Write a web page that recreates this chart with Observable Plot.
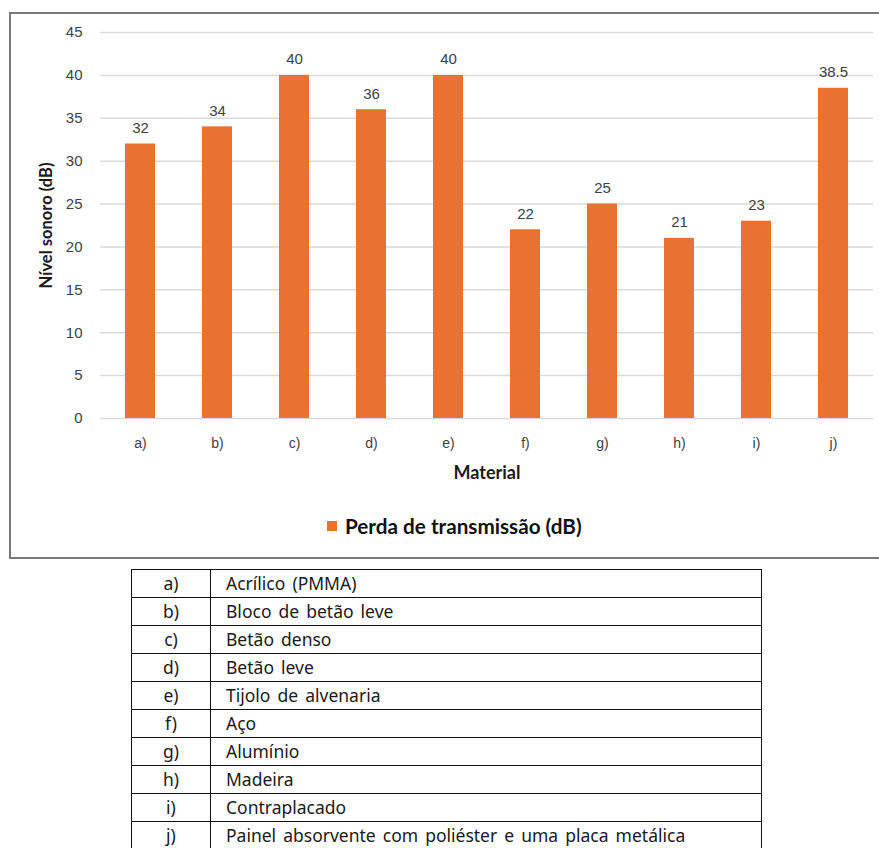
<!DOCTYPE html>
<html>
<head>
<meta charset="utf-8">
<script src="https://cdn.jsdelivr.net/npm/d3@7"></script>
<script src="https://cdn.jsdelivr.net/npm/@observablehq/plot@0.6"></script>
<style>
  html, body { margin: 0; padding: 0; background: #fff; width: 879px; height: 848px; overflow: hidden; position: relative; }
  #box { position: absolute; left: 9px; top: 12px; width: 900px; height: 543px; border: 2px solid #7a7a7a; box-sizing: content-box; }
  #chart { position: absolute; left: 0; top: 0; }
  #legend { position: absolute; left: 327px; top: 514px; display: flex; align-items: center; font-family: Lato, sans-serif; font-weight: bold; font-size: 20.7px; color: #111; }
  #legend .sw { width: 10px; height: 10px; background: #E97132; margin-right: 8px; }
  #tbl { position: absolute; left: 131px; top: 569px; width: 631px; border-collapse: collapse; font-family: 'Noto Sans', sans-serif; font-size: 17.5px; color: #1a1a1a; word-spacing: 2.5px; }
  #tbl td { border: 1.3px solid #111; height: 27px; padding: 0; line-height: 27px; }
  #tbl td.l { width: 78px; text-align: center; }
  #tbl td.m { padding-left: 15px; }
</style>
</head>
<body>
<div id="box"></div>
<div id="chart"></div>
<div id="legend"><div class="sw"></div><span id="legtext"></span></div>
<table id="tbl"></table>
<script>
const letters = ["a)", "b)", "c)", "d)", "e)", "f)", "g)", "h)", "i)", "j)"];
const values = [32, 34, 40, 36, 40, 22, 25, 21, 23, 38.5];
const materials = [
  "Acrílico (PMMA)",
  "Bloco de betão leve",
  "Betão denso",
  "Betão leve",
  "Tijolo de alvenaria",
  "Aço",
  "Alumínio",
  "Madeira",
  "Contraplacado",
  "Painel absorvente com poliéster e uma placa metálica"
];
const yTicks = [0, 5, 10, 15, 20, 25, 30, 35, 40, 45];
const seriesName = "Perda de transmissão (dB)";
const yTitle = "Nível sonoro (dB)";
const xTitle = "Material";

const data = letters.map((l, i) => ({letter: l, value: values[i]}));

const chart = Plot.plot({
  width: 879, height: 490,
  marginLeft: 100, marginRight: 6, marginTop: 32, marginBottom: 72,
  style: {fontFamily: "'Liberation Sans', Arial, sans-serif", fontSize: "13px", color: "#404040", background: "transparent"},
  x: {type: "band", domain: letters, paddingInner: 0.612, paddingOuter: 0.306},
  y: {domain: [0, 45]},
  marks: [
    Plot.gridY(yTicks, {stroke: "#d9d9d9", strokeOpacity: 1, strokeWidth: 1.5}),
    Plot.barY(data, {x: "letter", y: "value", fill: "#E97132"}),
    Plot.text(data, {x: "letter", y: "value", text: d => String(d.value), dy: -16, fontSize: 15, fill: "#404040"}),
    Plot.axisY(yTicks, {tickSize: 0, tickPadding: 18, label: null, fontSize: 15, fill: "#404040"}),
    Plot.axisX({tickSize: 0, tickPadding: 20, label: null, fontSize: 14, fill: "#404040"}),
    Plot.text([yTitle], {frameAnchor: "left", textAnchor: "middle", rotate: -90, dx: -54, fontWeight: "bold", fontSize: 16.5, fill: "#1a1a1a", fontFamily: "Lato, sans-serif"}),
    Plot.text([xTitle], {frameAnchor: "bottom", lineAnchor: "middle", dy: 55, fontWeight: "bold", fontSize: 18, fill: "#1a1a1a", fontFamily: "Lato, sans-serif"})
  ]
});
document.getElementById("chart").appendChild(chart);
document.getElementById("legtext").textContent = seriesName;

const tbl = document.getElementById("tbl");
letters.forEach((l, i) => {
  const tr = document.createElement("tr");
  const a = document.createElement("td"); a.className = "l"; a.textContent = l;
  const b = document.createElement("td"); b.className = "m"; b.textContent = materials[i];
  tr.appendChild(a); tr.appendChild(b); tbl.appendChild(tr);
});
</script>
</body>
</html>
